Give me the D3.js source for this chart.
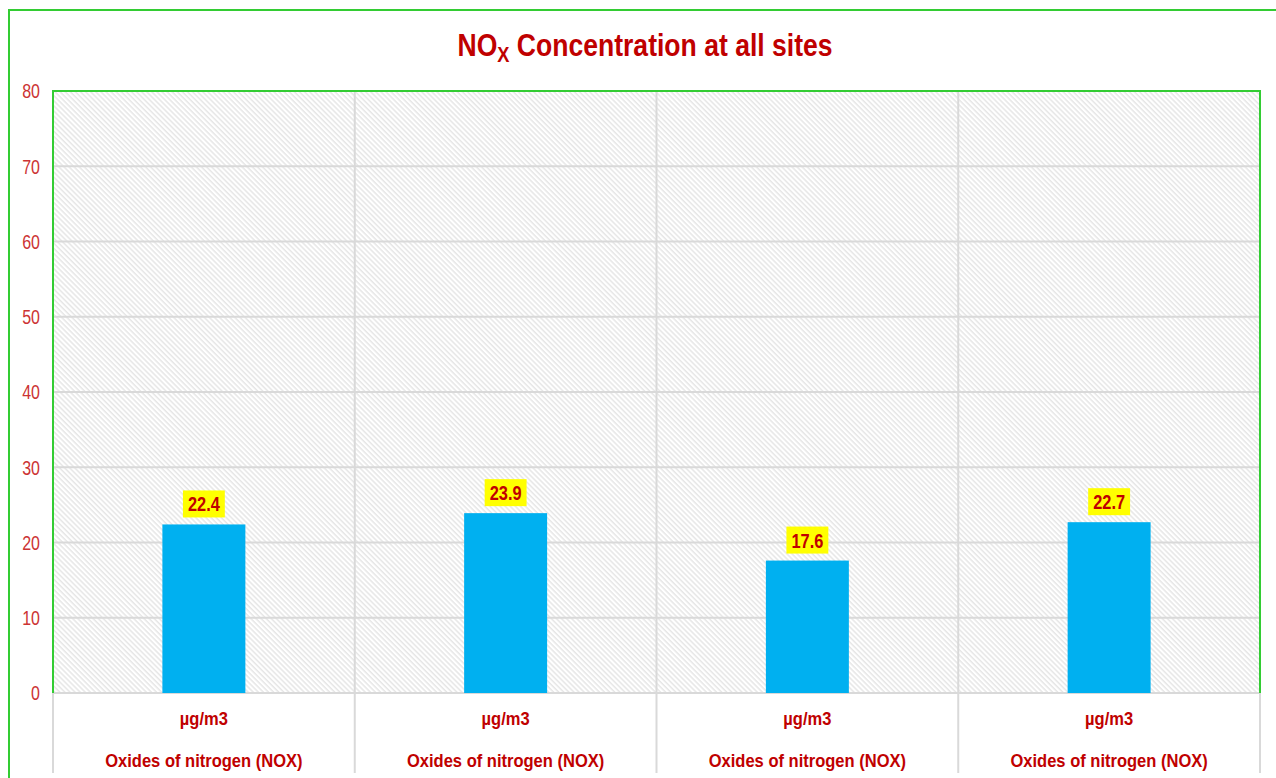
<!DOCTYPE html>
<html>
<head>
<meta charset="utf-8">
<script src="https://cdn.jsdelivr.net/npm/d3@7"></script>
<style>
  html, body { margin: 0; padding: 0; background: #ffffff; }
  svg { display: block; }
  text { font-family: "Liberation Sans Narrow", "Arial Narrow", "Liberation Sans", sans-serif; }
</style>
</head>
<body>
<svg id="chart" width="1276" height="778"></svg>
<script>
// ---- data ----
const categories = ["Oxides of nitrogen (NOX)", "Oxides of nitrogen (NOX)", "Oxides of nitrogen (NOX)", "Oxides of nitrogen (NOX)"];
const units = ["µg/m3", "µg/m3", "µg/m3", "µg/m3"];
const values = [22.4, 23.9, 17.6, 22.7];
const yTicks = [0, 10, 20, 30, 40, 50, 60, 70, 80];
const titleMain = "NO";
const titleSub = "X";
const titleRest = " Concentration at all sites";

// ---- layout ----
const W = 1276, H = 778;
const plot = { left: 53, right: 1260, top: 91, bottom: 693 };
const red = "#c00000";
const green = "#33cc33";
const grid = "#d9d9d9";
const narrow = 0.82; // horizontal condensation to imitate a narrow face

const svg = d3.select("#chart");

// hatch pattern
const defs = svg.append("defs");
const pat = defs.append("pattern")
  .attr("id", "hatch")
  .attr("patternUnits", "userSpaceOnUse")
  .attr("width", 3.6).attr("height", 3.6)
  .attr("patternTransform", "rotate(45)");
pat.append("rect").attr("width", 3.6).attr("height", 3.6).attr("fill", "#ffffff");
pat.append("line").attr("x1", 0).attr("y1", 0.8).attr("x2", 3.6).attr("y2", 0.8)
  .attr("stroke", "#dadada").attr("stroke-width", 1.0);

// outer frame (left + top)
svg.append("path")
  .attr("d", `M9,${H} L9,10 L${W + 5},10`)
  .attr("fill", "none").attr("stroke", green).attr("stroke-width", 2);

const idx = values.map((d, i) => i);
const x = d3.scaleBand().domain(idx).range([plot.left, plot.right]).padding(0);
const y = d3.scaleLinear().domain([0, 80]).range([plot.bottom, plot.top]);

// plot background
svg.append("rect")
  .attr("x", plot.left).attr("y", plot.top)
  .attr("width", plot.right - plot.left).attr("height", plot.bottom - plot.top)
  .attr("fill", "url(#hatch)");

// horizontal gridlines
svg.append("g").selectAll("line").data(yTicks).join("line")
  .attr("x1", plot.left).attr("x2", plot.right)
  .attr("y1", d => y(d)).attr("y2", d => y(d))
  .attr("stroke", grid).attr("stroke-width", 2);

// vertical category separators (extend into label area)
const seps = idx.map(i => x(i)).concat([plot.right]);
svg.append("g").selectAll("line").data(seps).join("line")
  .attr("x1", d => d).attr("x2", d => d)
  .attr("y1", plot.top).attr("y2", 773)
  .attr("stroke", grid).attr("stroke-width", 2);

// plot border green: top, left, right
svg.append("path")
  .attr("d", `M${plot.left},${plot.bottom} L${plot.left},${plot.top} L${plot.right},${plot.top} L${plot.right},${plot.bottom}`)
  .attr("fill", "none").attr("stroke", green).attr("stroke-width", 2);

// bars
const barW = x.bandwidth() * 0.275;
svg.append("g").selectAll("rect").data(values).join("rect")
  .attr("x", (d, i) => x(i) + x.bandwidth() / 2 - barW / 2)
  .attr("y", d => y(d))
  .attr("width", barW)
  .attr("height", d => y(0) - y(d))
  .attr("fill", "#00b0f0");

// y axis labels
const yAxis = d3.axisLeft(y).tickValues(yTicks).tickSize(0).tickPadding(0).tickFormat(d3.format("d"));
const ga = svg.append("g").attr("transform", `translate(40,0)`).call(yAxis);
ga.select(".domain").remove();
ga.selectAll("text")
  .attr("fill", "#cc3333")
  .attr("transform", `scale(${narrow},1)`)
  .style("font-size", "19.5px")
  .style("font-family", "'Liberation Sans', sans-serif")
  .attr("dy", "0.35em");

// data labels
const lab = svg.append("g").selectAll("g").data(values).join("g")
  .attr("transform", (d, i) => `translate(${x(i) + x.bandwidth() / 2},${y(d) - 7})`);
lab.each(function(d) {
  const g = d3.select(this);
  const r = g.append("rect").attr("fill", "#ffff00");
  const t = g.append("text")
    .attr("text-anchor", "middle")
    .attr("y", -6)
    .attr("transform", `scale(${0.8},1)`)
    .attr("fill", red)
    .style("font-size", "20.5px")
    .style("font-weight", "bold")
    .text(d.toFixed(1));
  const w = t.node().getComputedTextLength() * 0.8 + 10;
  r.attr("x", -w / 2).attr("y", -27).attr("width", w).attr("height", 27);
});

// category labels (two levels)
function catLabels(data, yPos) {
  svg.append("g").selectAll("g").data(data).join("g")
    .attr("transform", (d, i) => `translate(${x(i) + x.bandwidth() / 2},${yPos}) scale(0.87,1)`)
    .append("text")
    .attr("text-anchor", "middle")
    .attr("fill", red)
    .style("font-size", "19px")
    .style("font-weight", "bold")
    .text(d => d);
}
catLabels(units, 725);
catLabels(categories, 767);

// title
const title = svg.append("g")
  .attr("transform", `translate(645,56) scale(0.83,1)`)
  .append("text")
  .attr("text-anchor", "middle")
  .attr("fill", red)
  .style("font-size", "32px")
  .style("font-weight", "bold");
title.append("tspan").text(titleMain);
title.append("tspan").attr("dy", 6).style("font-size", "22px").text(titleSub);
title.append("tspan").attr("dy", -6).text(titleRest);
</script>
</body>
</html>
